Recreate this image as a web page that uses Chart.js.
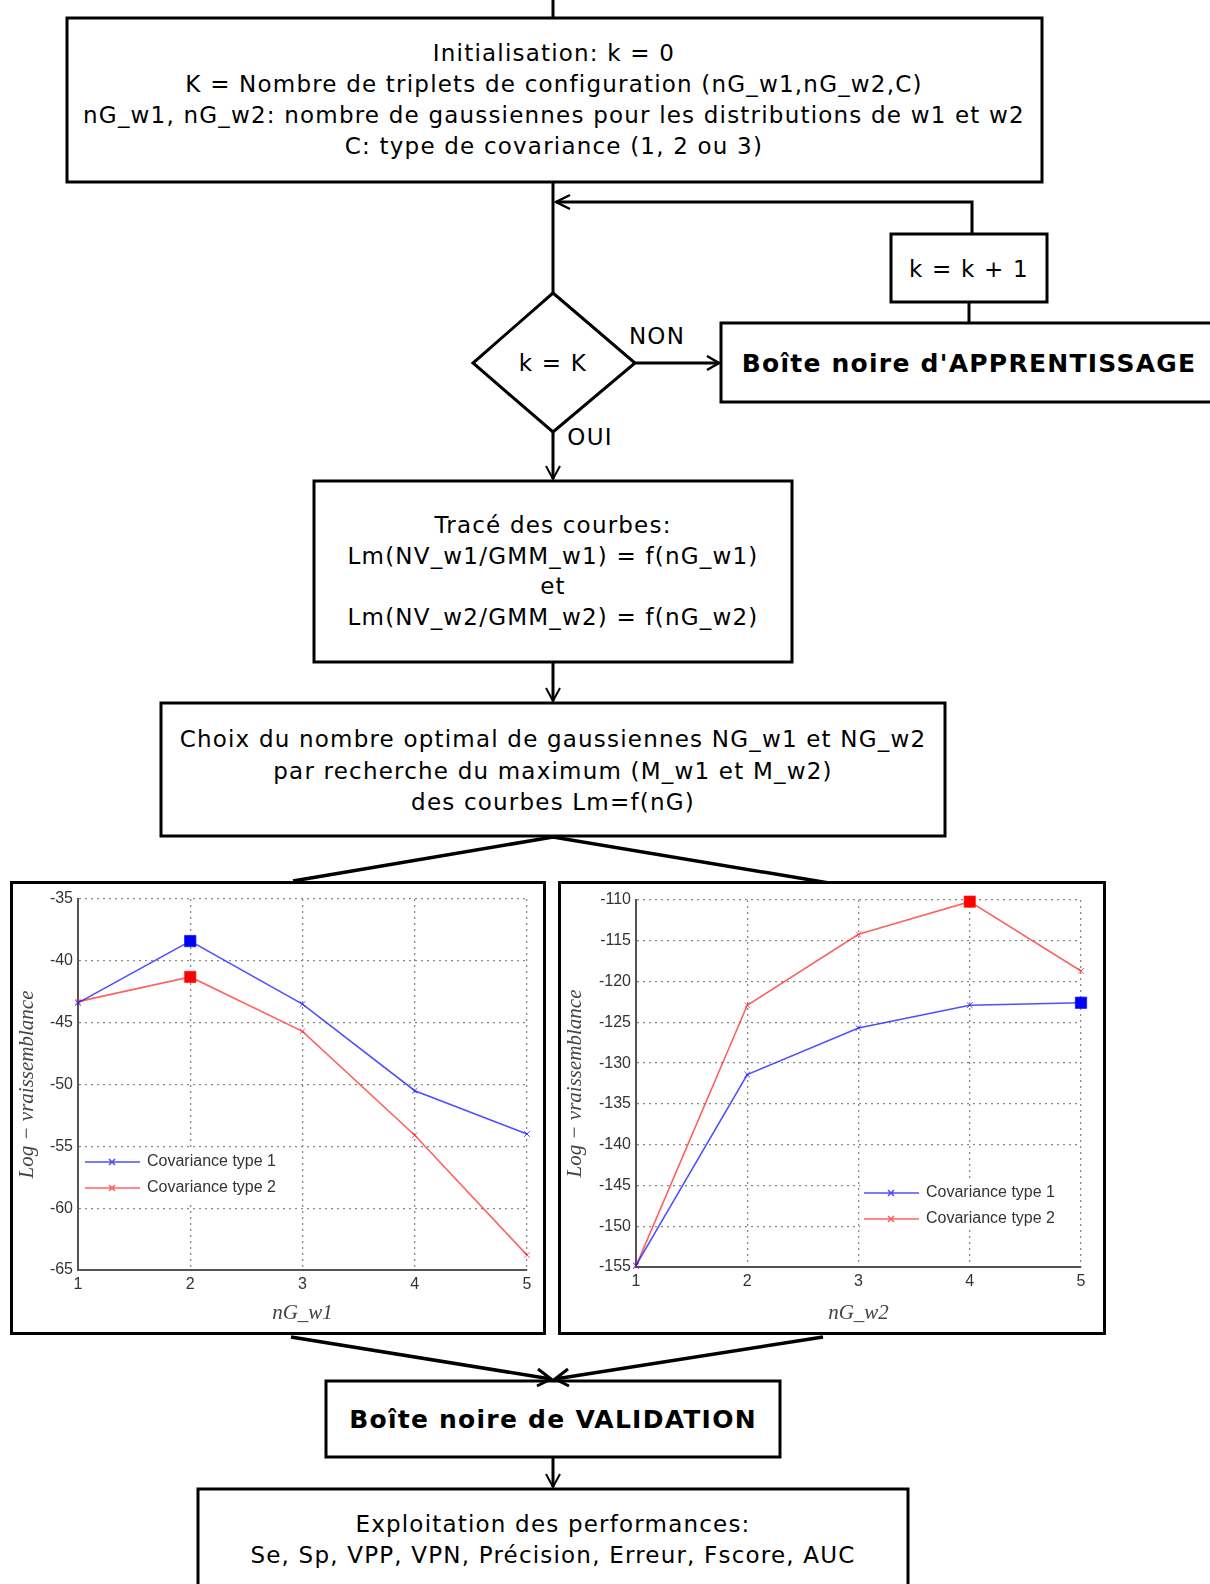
<!DOCTYPE html>
<html>
<head>
<meta charset="utf-8">
<script src="https://cdn.jsdelivr.net/npm/chart.js@4.4.1/dist/chart.umd.min.js"></script>
<style>
html, body { margin: 0; padding: 0; background: #fff; }
body { width: 1210px; height: 1584px; position: relative; overflow: hidden; }
#flow { position: absolute; left: 0; top: 0; }
#flow text { font-family: "DejaVu Sans", Verdana, sans-serif; font-size: 23px; letter-spacing: 1.2px; fill: #000; }
#flow text.bold { font-weight: bold; font-size: 25px; letter-spacing: 1.25px; }
.frame { position: absolute; border: 3px solid #000; background: #fff; box-sizing: border-box; }
.frame canvas { position: absolute; left: 0; top: 0; }
</style>
</head>
<body>

<svg id="flow" width="1210" height="1584" xmlns="http://www.w3.org/2000/svg">
  <g stroke="#000" fill="none" stroke-width="3">
    <line x1="553" y1="0" x2="553" y2="18"/>
    <rect x="67" y="18" width="975" height="164"/>
    <line x1="553" y1="182" x2="553" y2="293"/>
    <polyline points="972,234 972,202 556,202"/>
    <polyline points="570,195 556,202 570,209" stroke-width="2.5"/>
    <rect x="891" y="234" width="156" height="68"/>
    <line x1="969" y1="302" x2="969" y2="323"/>
    <rect x="721" y="323" width="520" height="79"/>
    <polygon points="553,293 635,363 553,432 473,363"/>
    <line x1="635" y1="363" x2="719" y2="363"/>
    <polyline points="707,356 719,363 707,370" stroke-width="2.5"/>
    <line x1="553" y1="432" x2="553" y2="479"/>
    <polyline points="546,466 553,479 560,466" stroke-width="2"/>
    <rect x="314" y="481" width="478" height="181"/>
    <line x1="553" y1="662" x2="553" y2="701"/>
    <polyline points="546,688 553,701 560,688" stroke-width="2"/>
    <rect x="161" y="703" width="784" height="133"/>
    <polyline points="293,881 553,837 829,883" stroke-width="3.5"/>
    <polyline points="291,1337 551,1379" stroke-width="3.5"/>
    <polyline points="823,1337 555,1379" stroke-width="3.5"/>
    <polyline points="538,1369 551,1379 537,1386" stroke-width="3"/>
    <polyline points="568,1369 555,1379 569,1386" stroke-width="3"/>
    <rect x="326" y="1381" width="454" height="76"/>
    <line x1="553" y1="1457" x2="553" y2="1487"/>
    <polyline points="546,1474 553,1487 560,1474" stroke-width="2"/>
    <rect x="198" y="1489" width="710" height="110"/>
  </g>
  <g text-anchor="middle" dominant-baseline="central">
    <text x="554" y="53">Initialisation: k = 0</text>
    <text x="554" y="84">K = Nombre de triplets de configuration (nG_w1,nG_w2,C)</text>
    <text x="554" y="115">nG_w1, nG_w2: nombre de gaussiennes pour les distributions de w1 et w2</text>
    <text x="554" y="146">C: type de covariance (1, 2 ou 3)</text>
    <text x="969" y="269">k = k + 1</text>
    <text x="553" y="363">k = K</text>
    <text x="657" y="336">NON</text>
    <text x="590" y="437">OUI</text>
    <text class="bold" x="969" y="363">Boîte noire d'APPRENTISSAGE</text>
    <text x="553" y="525">Tracé des courbes:</text>
    <text x="553" y="556">Lm(NV_w1/GMM_w1) = f(nG_w1)</text>
    <text x="553" y="586">et</text>
    <text x="553" y="617">Lm(NV_w2/GMM_w2) = f(nG_w2)</text>
    <text x="553" y="739">Choix du nombre optimal de gaussiennes NG_w1 et NG_w2</text>
    <text x="553" y="771">par recherche du maximum (M_w1 et M_w2)</text>
    <text x="553" y="802">des courbes Lm=f(nG)</text>
    <text class="bold" x="553" y="1419">Boîte noire de VALIDATION</text>
    <text x="553" y="1524">Exploitation des performances:</text>
    <text x="553" y="1555">Se, Sp, VPP, VPN, Précision, Erreur, Fscore, AUC</text>
  </g>
</svg>

<div class="frame" style="left:10px;top:881px;width:536px;height:454px;"><canvas id="chartW1" width="530" height="448"></canvas></div>
<div class="frame" style="left:558px;top:881px;width:548px;height:454px;"><canvas id="chartW2" width="542" height="448"></canvas></div>

<script>
'use strict';

// values
var nGLabels = ['1', '2', '3', '4', '5'];
var seriesNames = ['Covariance type 1', 'Covariance type 2'];
var cov1W1 = [-43.4, -38.4, -43.5, -50.5, -54.0];
var cov2W1 = [-43.3, -41.3, -45.7, -54.1, -63.8];
var cov1W2 = [-154.8, -131.4, -125.7, -122.9, -122.6];
var cov2W2 = [-154.9, -122.9, -114.2, -110.2, -118.7];
var yRangeW1 = [-65, -35];
var yRangeW2 = [-155, -110];

var BLUE = 'rgba(20,20,255,0.75)',
  RED = 'rgba(255,30,30,0.7)';

// the maximum of each curve gets a filled square instead of a cross
function markerStyles(values) {
  var best = values.indexOf(Math.max.apply(null, values));
  return {
    style: values.map(function (v, i) { return i === best ? 'rect' : 'crossRot'; }),
    radius: values.map(function (v, i) { return i === best ? 8 : 4; })
  };
}

function makeDataset(label, values, color, solid) {
  var m = markerStyles(values);
  return {
    label: label,
    data: values,
    clip: false,
    borderColor: color,
    borderWidth: 1.6,
    pointStyle: m.style,
    pointRadius: m.radius,
    pointBorderColor: color,
    pointBackgroundColor: m.style.map(function (s) { return s === 'rect' ? solid : color; }),
    pointBorderWidth: 1,
    tension: 0,
    fill: false
  };
}

// legend drawn inside the plot, matlab style
var insideLegend = {
  id: 'insideLegend',
  afterDatasetsDraw(chart, args, opts) {
    var ctx = chart.ctx,
      area = chart.chartArea,
      x = opts.right != null ? area.right - opts.right - opts.width : area.left + opts.left,
      y = area.bottom - opts.bottom - opts.height;
    ctx.save();
    ctx.fillStyle = '#fff';
    ctx.fillRect(x, y, opts.width, opts.height);
    chart.data.datasets.forEach(function (ds, i) {
      var rowY = y + 14 + i * 26,
        mx = x + 31;
      ctx.strokeStyle = ds.borderColor;
      ctx.lineWidth = 1.6;
      ctx.beginPath();
      ctx.moveTo(x + 4, rowY);
      ctx.lineTo(x + 59, rowY);
      ctx.moveTo(mx - 3, rowY - 3);
      ctx.lineTo(mx + 3, rowY + 3);
      ctx.moveTo(mx - 3, rowY + 3);
      ctx.lineTo(mx + 3, rowY - 3);
      ctx.stroke();
      ctx.fillStyle = '#333';
      ctx.font = '16px "Liberation Sans", Arial, sans-serif';
      ctx.textBaseline = 'middle';
      ctx.fillText(ds.label, x + 66, rowY);
    });
    ctx.restore();
  }
};

function makeChart(canvasId, values1, values2, yRange, xTitle, sizes, legendPos) {
  var tickFont = { family: '"Liberation Sans", Arial, sans-serif', size: 16 },
    titleFont = { family: '"Liberation Serif", "Times New Roman", serif', size: 21, style: 'italic' };
  return new Chart(document.getElementById(canvasId), {
    type: 'line',
    data: {
      labels: nGLabels,
      datasets: [
        makeDataset(seriesNames[0], values1, BLUE, '#0000ff'),
        makeDataset(seriesNames[1], values2, RED, '#ff0000')
      ]
    },
    options: {
      responsive: false,
      animation: false,
      devicePixelRatio: 1,
      layout: { padding: { top: sizes.top, right: sizes.right, left: 0, bottom: 0 } },
      plugins: {
        legend: { display: false },
        tooltip: { enabled: false },
        insideLegend: legendPos
      },
      scales: {
        x: {
          offset: false,
          afterFit: function (scale) { scale.height = sizes.xAxis; },
          ticks: { font: tickFont, color: '#333', padding: 5, maxRotation: 0 },
          grid: { color: '#888', lineWidth: 1.3, drawTicks: false },
          border: { display: true, color: '#555', width: 2, dash: [2, 4] },
          title: { display: true, text: xTitle, font: titleFont, color: '#444', padding: { top: 0, bottom: 6 } }
        },
        y: {
          min: yRange[0],
          max: yRange[1],
          afterFit: function (scale) { scale.width = sizes.yAxis; },
          ticks: { stepSize: 5, font: tickFont, color: '#333', padding: 5 },
          grid: { color: '#888', lineWidth: 1.3, drawTicks: false },
          border: { display: true, color: '#555', width: 2, dash: [2, 4] },
          title: { display: true, text: 'Log − vraissemblance', font: titleFont, color: '#444', padding: { top: 2, bottom: 0 } }
        }
      }
    },
    plugins: [insideLegend]
  });
}

makeChart('chartW1', cov1W1, cov2W1, yRangeW1, 'nG_w1',
  { top: 15, right: 16, xAxis: 62, yAxis: 65 },
  { left: 3, bottom: 66, width: 214, height: 56 });

makeChart('chartW2', cov1W2, cov2W2, yRangeW2, 'nG_w2',
  { top: 16, right: 22, xAxis: 65, yAxis: 75 },
  { right: 2, bottom: 37, width: 219, height: 51 });
</script>
</body>
</html>
